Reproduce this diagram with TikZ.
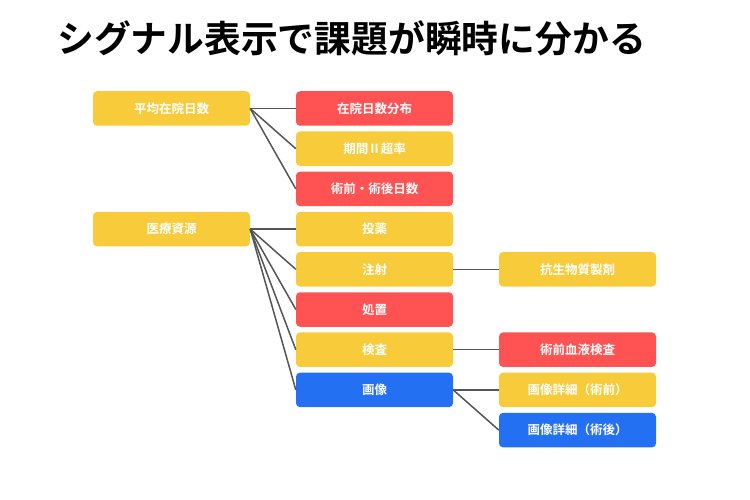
\documentclass[tikz,border=0pt]{standalone}
\usepackage{fontspec}
\newfontfamily\jpfont{Noto Sans CJK JP}[BoldFont={Noto Sans CJK JP Bold}]
\usetikzlibrary{positioning}
\definecolor{sigyellow}{HTML}{F8CB3B}
\definecolor{sigred}{HTML}{FF5252}
\definecolor{sigblue}{HTML}{2470F2}
\definecolor{linegray}{HTML}{555555}

\begin{document}
\begin{tikzpicture}[
    x=1pt, y=-1pt,
    box/.style={rounded corners=4pt, minimum width=157pt, minimum height=34.5pt,
        inner sep=0pt, text=white, font=\jpfont\bfseries\fontsize{12.5}{12.5}\selectfont},
    ybox/.style={box, fill=sigyellow},
    rbox/.style={box, fill=sigred},
    bbox/.style={box, fill=sigblue},
    link/.style={draw=linegray, line width=1.5pt},
    ]
    \useasboundingbox (0,0) rectangle (750,500);

    %title
    \node[anchor=west, inner sep=0pt, font=\jpfont\bfseries\fontsize{36.8}{36.8}\selectfont]
        (title) at (57,38) {シグナル表示で課題が瞬時に分かる};

    %left column
    \node[ybox] (zaiin) at (171.5,108.5) {平均在院日数};
    \node[ybox] (iryo) at (171.5,229.1) {医療資源};

    %middle column
    \node[rbox] (bunpu) at (374.5,108.5) {在院日数分布};
    \node[ybox] (kikan) at (374.5,148.7) {期間Ⅱ超率};
    \node[rbox] (jutsu) at (374.5,188.9) {術前・術後日数};
    \node[ybox] (toyaku) at (374.5,229.1) {投薬};
    \node[ybox] (chusha) at (374.5,269.3) {注射};
    \node[rbox] (shochi) at (374.5,309.5) {処置};
    \node[ybox] (kensa) at (374.5,349.7) {検査};
    \node[bbox] (gazo) at (374.5,389.9) {画像};

    %right column
    \node[ybox] (kosei) at (577.5,269.3) {抗生物質製剤};
    \node[rbox] (ketsueki) at (577.5,349.7) {術前血液検査};
    \node[ybox] (gazomae) at (577.5,389.9) {画像詳細（術前）};
    \node[bbox] (gazoato) at (577.5,430.1) {画像詳細（術後）};

    %links
    \foreach \c in {bunpu,kikan,jutsu}
        \draw[link] (zaiin.east) -- (\c.west);
    \foreach \c in {toyaku,chusha,shochi,kensa,gazo}
        \draw[link] (iryo.east) -- (\c.west);
    \draw[link] (chusha.east) -- (kosei.west);
    \draw[link] (kensa.east) -- (ketsueki.west);
    \draw[link] (gazo.east) -- (gazomae.west);
    \draw[link] (gazo.east) -- (gazoato.west);

\end{tikzpicture}
\end{document}
